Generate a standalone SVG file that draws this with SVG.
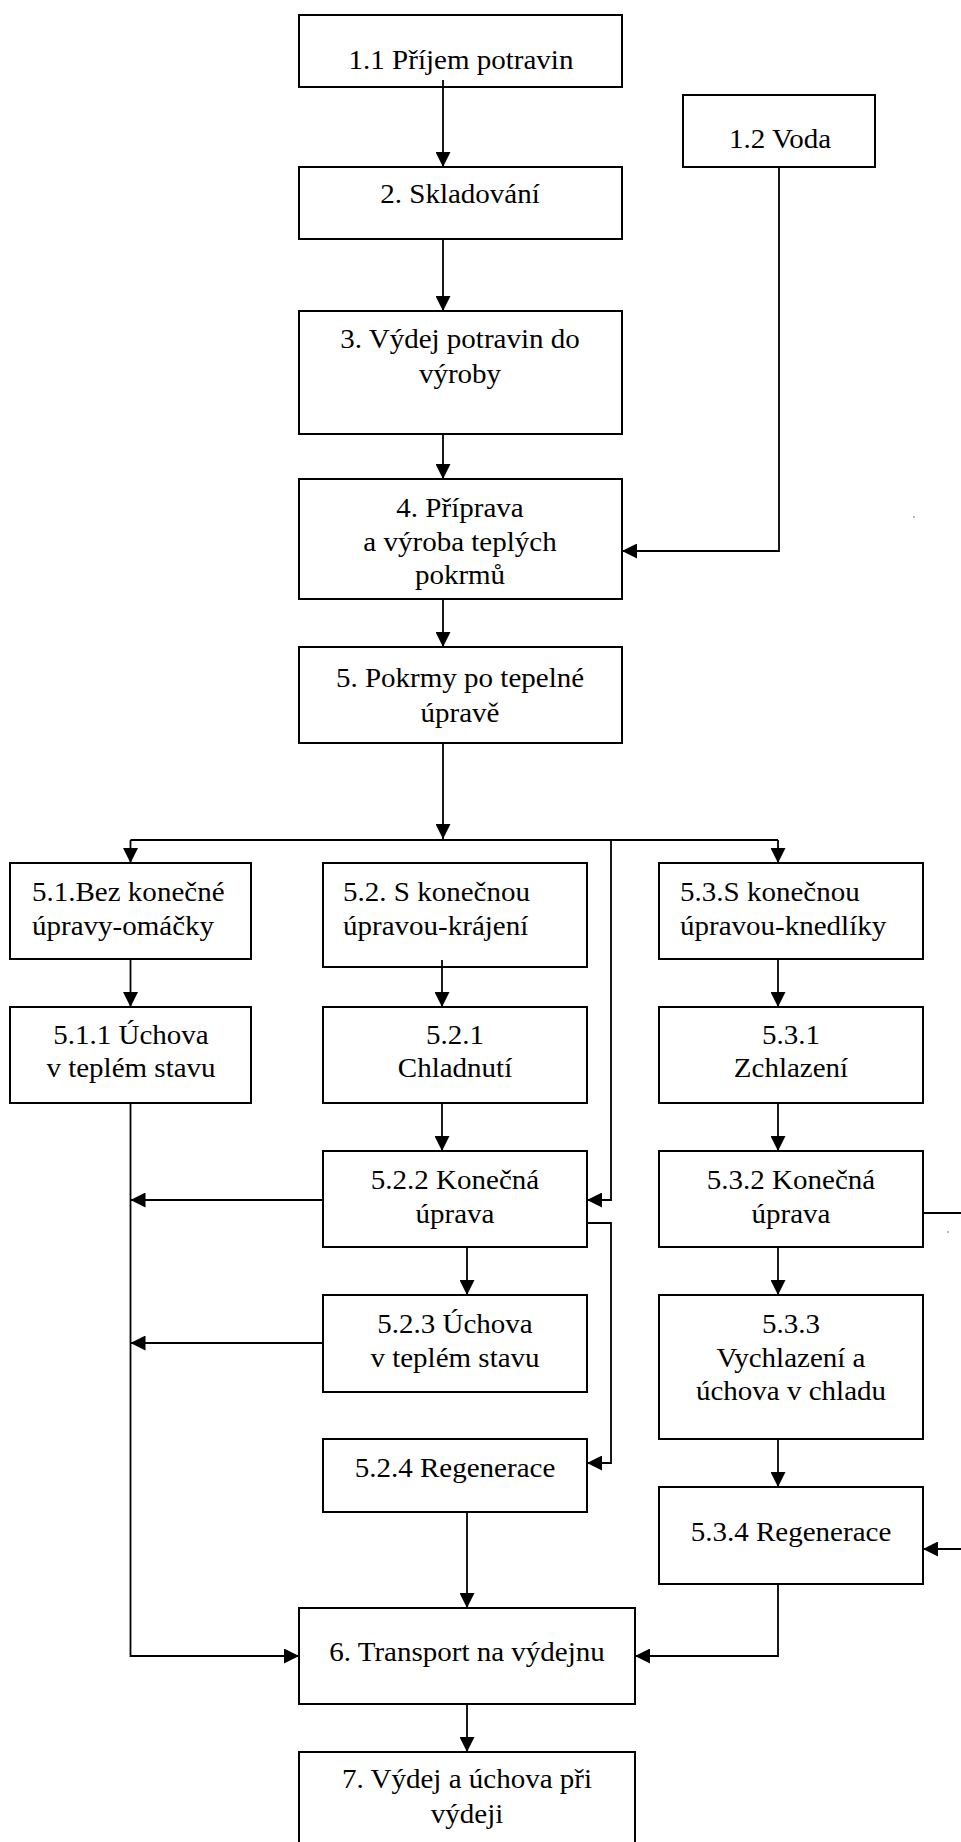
<svg xmlns="http://www.w3.org/2000/svg" width="961" height="1842" viewBox="0 0 961 1842">
<style>
.box{fill:#fff;stroke:#000;stroke-width:2}
text{font-family:'Liberation Serif','Times New Roman',serif;font-size:27px;fill:#000;text-anchor:middle}
text.l{text-anchor:start}
.c{fill:none;stroke:#000;stroke-width:1.8}
.a{marker-end:url(#ah)}
</style>
<defs>
<marker id="ah" markerUnits="userSpaceOnUse" markerWidth="15" markerHeight="15" refX="15" refY="7.5" orient="auto" viewBox="0 0 15 15">
<path d="M0,0 L15,7.5 L0,15 z" fill="#000"/>
</marker>
</defs>
<rect width="961" height="1842" fill="#fff"/>
<g id="n1_1"><rect class="box" x="299" y="15" width="323" height="72"/><text transform="translate(461,69) scale(1.075,1)">1.1 Příjem potravin</text></g>
<g id="n1_2"><rect class="box" x="683" y="95" width="192" height="72"/><text transform="translate(780,148) scale(1.075,1)">1.2 Voda</text></g>
<g id="n2"><rect class="box" x="299" y="167" width="323" height="72"/><text transform="translate(460,203) scale(1.075,1)">2. Skladování</text></g>
<g id="n3"><rect class="box" x="299" y="311" width="323" height="123"/><text transform="translate(460,348) scale(1.075,1)">3. Výdej potravin do</text><text transform="translate(460,383) scale(1.075,1)">výroby</text></g>
<g id="n4"><rect class="box" x="299" y="479" width="323" height="120"/><text transform="translate(460,517) scale(1.075,1)">4. Příprava</text><text transform="translate(460,551) scale(1.075,1)">a výroba teplých</text><text transform="translate(460,584) scale(1.075,1)">pokrmů</text></g>
<g id="n5"><rect class="box" x="299" y="647" width="323" height="96"/><text transform="translate(460,687) scale(1.075,1)">5. Pokrmy po tepelné</text><text transform="translate(460,722) scale(1.075,1)">úpravě</text></g>
<g id="n5_1"><rect class="box" x="10" y="863" width="241" height="96"/><text class="l" transform="translate(32,901) scale(1.075,1)">5.1.Bez konečné</text><text class="l" transform="translate(32,935) scale(1.075,1)">úpravy-omáčky</text></g>
<g id="n5_2"><rect class="box" x="323" y="863" width="264" height="104"/><text class="l" transform="translate(343,901) scale(1.075,1)">5.2. S konečnou</text><text class="l" transform="translate(343,935) scale(1.075,1)">úpravou-krájení</text></g>
<g id="n5_3"><rect class="box" x="659" y="863" width="264" height="96"/><text class="l" transform="translate(680,901) scale(1.075,1)">5.3.S konečnou</text><text class="l" transform="translate(680,935) scale(1.075,1)">úpravou-knedlíky</text></g>
<g id="n5_1_1"><rect class="box" x="10" y="1007" width="241" height="96"/><text transform="translate(131,1044) scale(1.075,1)">5.1.1 Úchova</text><text transform="translate(131,1077) scale(1.075,1)">v teplém stavu</text></g>
<g id="n5_2_1"><rect class="box" x="323" y="1007" width="264" height="96"/><text transform="translate(455,1044) scale(1.075,1)">5.2.1</text><text transform="translate(455,1077) scale(1.075,1)">Chladnutí</text></g>
<g id="n5_3_1"><rect class="box" x="659" y="1007" width="264" height="96"/><text transform="translate(791,1044) scale(1.075,1)">5.3.1</text><text transform="translate(791,1077) scale(1.075,1)">Zchlazení</text></g>
<g id="n5_2_2"><rect class="box" x="323" y="1151" width="264" height="96"/><text transform="translate(455,1189) scale(1.075,1)">5.2.2 Konečná</text><text transform="translate(455,1223) scale(1.075,1)">úprava</text></g>
<g id="n5_3_2"><rect class="box" x="659" y="1151" width="264" height="96"/><text transform="translate(791,1189) scale(1.075,1)">5.3.2 Konečná</text><text transform="translate(791,1223) scale(1.075,1)">úprava</text></g>
<g id="n5_2_3"><rect class="box" x="323" y="1295" width="264" height="97"/><text transform="translate(455,1333) scale(1.075,1)">5.2.3 Úchova</text><text transform="translate(455,1367) scale(1.075,1)">v teplém stavu</text></g>
<g id="n5_3_3"><rect class="box" x="659" y="1295" width="264" height="144"/><text transform="translate(791,1333) scale(1.075,1)">5.3.3</text><text transform="translate(791,1367) scale(1.075,1)">Vychlazení a</text><text transform="translate(791,1400) scale(1.075,1)">úchova v chladu</text></g>
<g id="n5_2_4"><rect class="box" x="323" y="1439" width="264" height="73"/><text transform="translate(455,1477) scale(1.075,1)">5.2.4 Regenerace</text></g>
<g id="n5_3_4"><rect class="box" x="659" y="1487" width="264" height="97"/><text transform="translate(791,1541) scale(1.075,1)">5.3.4 Regenerace</text></g>
<g id="n6"><rect class="box" x="299" y="1608" width="336" height="96"/><text transform="translate(467,1661) scale(1.075,1)">6. Transport na výdejnu</text></g>
<g id="n7"><rect class="box" x="299" y="1752" width="336" height="110"/><text transform="translate(467,1788) scale(1.075,1)">7. Výdej a úchova při</text><text transform="translate(467,1823) scale(1.075,1)">výdeji</text></g>
<g id="connectors">
<path class="c a" d="M443,80 V167"/>
<path class="c a" d="M443,239 V311"/>
<path class="c a" d="M443,434 V479"/>
<path class="c a" d="M443,599 V647"/>
<path class="c a" d="M779,167 V551 H622"/>
<path class="c a" d="M443,743 V839"/>
<path class="c" d="M130.5,840 H778"/>
<path class="c a" d="M130.5,840 V863"/>
<path class="c a" d="M778,840 V863"/>
<path class="c a" d="M611,840 V1200 H587"/>
<path class="c a" d="M130.5,959 V1007"/>
<path class="c a" d="M442,960 V1007"/>
<path class="c a" d="M778,959 V1007"/>
<path class="c a" d="M130.5,1103 V1656 H299"/>
<path class="c a" d="M442,1103 V1151"/>
<path class="c a" d="M323,1200 H130.5"/>
<path class="c a" d="M587,1223 H611 V1463 H587"/>
<path class="c a" d="M467,1247 V1295"/>
<path class="c a" d="M323,1343 H130.5"/>
<path class="c a" d="M467,1512 V1608"/>
<path class="c a" d="M778,1103 V1151"/>
<path class="c a" d="M778,1247 V1295"/>
<path class="c a" d="M778,1439 V1487"/>
<path class="c a" d="M923,1213 H975 V1549 H923"/>
<path class="c a" d="M778,1584 V1656 H635"/>
<path class="c a" d="M467,1704 V1752"/>
</g>
<rect x="913.5" y="516" width="1" height="2" fill="#777"/>
<rect x="947.5" y="1231" width="1" height="2" fill="#777"/>
</svg>
